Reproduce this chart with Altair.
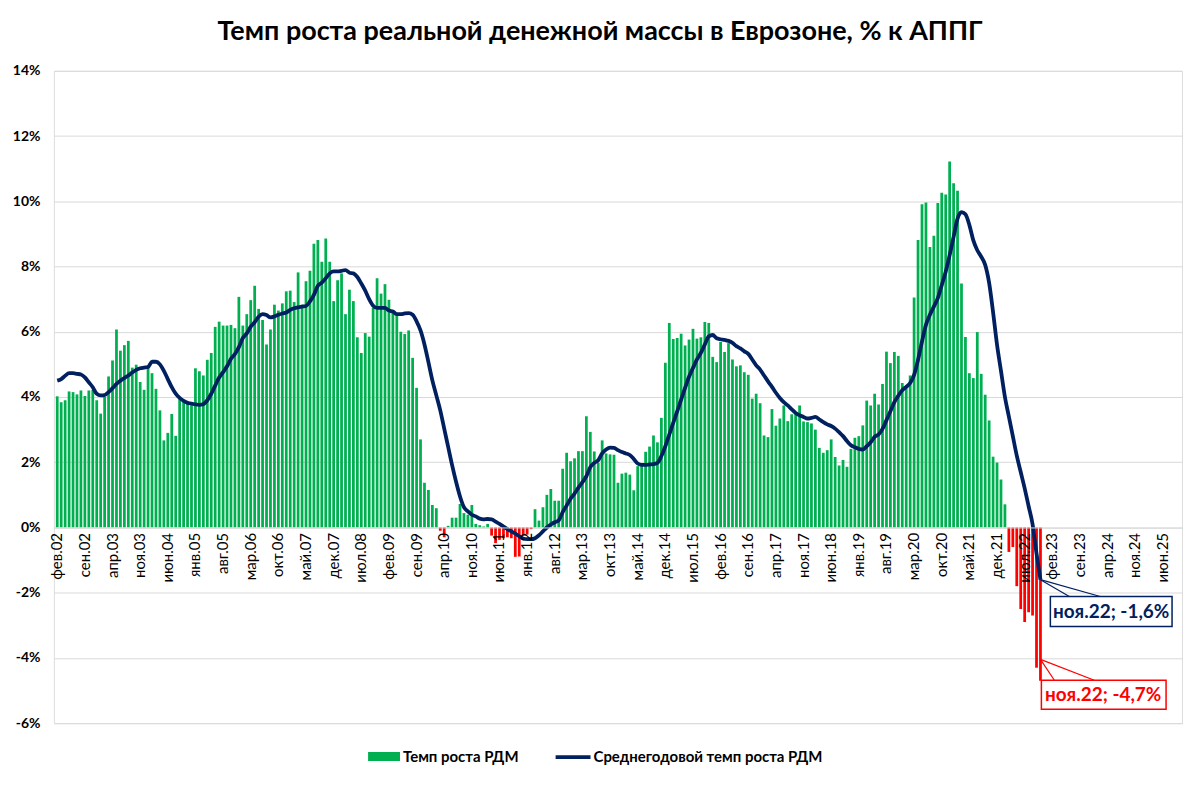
import altair as alt
import pandas as pd

MONTHS = ["янв", "фев", "мар", "апр", "май", "июн", "июл", "авг", "сен", "окт", "ноя", "дек"]

# category axis: фев.02 ... окт.25
categories = []
yr, mo = 2002, 1
for _ in range(285):
    categories.append(f"{MONTHS[mo]}.{yr % 100:02d}")
    mo += 1
    if mo == 12:
        mo = 0
        yr += 1
tick_labels = categories[::7]

# Темп роста РДМ, % к АППГ (фев.02 - ноя.22)
growth = [
    4.02, 3.84, 3.90, 4.17, 4.15, 4.08, 4.20, 4.03, 4.20, 4.22, 3.90, 3.49,
    4.00, 4.63, 5.12, 6.07, 5.42, 5.59, 5.72, 4.90, 4.99, 4.46, 4.22, 4.97,
    4.73, 4.25, 3.59, 2.67, 2.90, 3.48, 2.81, 3.95, 3.85, 3.85, 3.78, 4.88,
    4.79, 4.66, 5.14, 5.35, 6.15, 6.31, 6.19, 6.19, 6.21, 6.11, 7.07, 6.19,
    6.54, 6.97, 7.41, 6.70, 6.36, 5.61, 6.07, 6.83, 6.65, 6.87, 7.24, 7.26,
    6.91, 7.82, 6.83, 7.55, 7.87, 8.70, 8.81, 8.15, 8.86, 8.15, 6.94, 7.58,
    7.79, 6.54, 7.29, 6.94, 5.83, 5.35, 5.96, 5.85, 6.74, 7.64, 7.17, 7.46,
    6.98, 6.60, 6.49, 6.00, 5.93, 6.04, 5.20, 4.28, 2.70, 1.37, 1.15, 0.69,
    0.59, -0.10, -0.30, 0.05, 0.30, 0.30, 0.72, 0.44, 0.39, 0.69, 0.11, 0.07,
    0.03, 0.11, -0.25, -0.48, -0.38, -0.33, -0.30, -0.33, -0.90, -0.89, -0.25, -0.22,
    -0.05, 0.56, 0.21, 0.62, 1.00, 1.18, 0.82, 0.82, 1.80, 2.29, 2.03, 2.12,
    2.34, 2.34, 3.41, 2.93, 2.33, 1.98, 2.67, 2.27, 2.24, 2.23, 1.37, 1.65,
    1.68, 1.62, 1.14, 1.88, 1.92, 2.32, 2.48, 2.82, 2.61, 3.36, 5.05, 6.27,
    5.78, 5.81, 5.94, 5.58, 5.76, 6.09, 5.79, 5.83, 6.30, 6.27, 5.23, 5.07,
    5.69, 5.38, 5.65, 5.15, 4.94, 4.97, 4.76, 4.68, 3.95, 4.10, 3.81, 2.82,
    2.77, 3.63, 3.12, 3.34, 3.74, 3.26, 3.47, 3.51, 3.74, 3.25, 3.23, 3.19,
    3.00, 2.44, 2.29, 2.37, 2.70, 2.16, 1.90, 2.07, 1.86, 2.41, 2.75, 2.80,
    3.13, 3.89, 3.74, 4.10, 3.77, 4.40, 5.39, 5.04, 5.38, 5.26, 4.43, 4.27,
    4.66, 7.05, 8.81, 9.91, 9.96, 8.60, 8.94, 9.95, 10.26, 10.21, 11.22, 10.55,
    10.32, 7.48, 5.84, 4.73, 4.58, 5.99, 4.71, 4.07, 3.28, 2.17, 1.99, 1.47,
    0.71, -0.75, -0.60, -1.80, -2.50, -2.90, -2.60, -2.70, -4.30, -4.70,
]

# Среднегодовой темп роста РДМ
avg_growth = [
    4.50, 4.55, 4.65, 4.73, 4.73, 4.71, 4.69, 4.60, 4.45, 4.30, 4.10, 4.05,
    4.06, 4.15, 4.27, 4.40, 4.50, 4.58, 4.66, 4.75, 4.83, 4.88, 4.90, 4.92,
    5.08, 5.08, 5.00, 4.80, 4.55, 4.30, 4.10, 3.97, 3.88, 3.82, 3.80, 3.77,
    3.76, 3.78, 3.90, 4.10, 4.35, 4.60, 4.76, 4.94, 5.17, 5.32, 5.53, 5.81,
    5.95, 6.16, 6.29, 6.46, 6.54, 6.51, 6.44, 6.47, 6.52, 6.56, 6.59, 6.67,
    6.72, 6.75, 6.77, 6.79, 6.93, 7.13, 7.41, 7.51, 7.64, 7.79, 7.85, 7.85,
    7.87, 7.89, 7.81, 7.79, 7.68, 7.48, 7.26, 7.00, 6.80, 6.73, 6.73, 6.73,
    6.65, 6.62, 6.54, 6.54, 6.56, 6.57, 6.52, 6.32, 6.04, 5.61, 5.07, 4.51,
    4.05, 3.59, 3.03, 2.47, 1.91, 1.40, 0.95, 0.62, 0.49, 0.39, 0.34, 0.27,
    0.25, 0.26, 0.25, 0.18, 0.11, 0.03, -0.05, -0.12, -0.19, -0.27, -0.34, -0.36,
    -0.36, -0.33, -0.24, -0.12, 0.00, 0.09, 0.16, 0.22, 0.47, 0.67, 0.88, 1.04,
    1.22, 1.39, 1.57, 1.85, 1.98, 2.06, 2.27, 2.39, 2.45, 2.44, 2.37, 2.31,
    2.27, 2.22, 2.10, 1.96, 1.92, 1.92, 1.93, 1.94, 1.98, 2.19, 2.49, 2.85,
    3.21, 3.56, 3.92, 4.28, 4.62, 4.89, 5.15, 5.35, 5.61, 5.86, 5.90, 5.80,
    5.77, 5.75, 5.72, 5.66, 5.56, 5.49, 5.40, 5.32, 5.15, 4.97, 4.84, 4.66,
    4.48, 4.31, 4.13, 3.97, 3.84, 3.74, 3.62, 3.51, 3.44, 3.39, 3.34, 3.36,
    3.39, 3.31, 3.23, 3.16, 3.11, 3.03, 2.92, 2.80, 2.65, 2.52, 2.46, 2.41,
    2.39, 2.49, 2.61, 2.78, 2.85, 3.02, 3.29, 3.56, 3.84, 4.04, 4.21, 4.31,
    4.43, 4.68, 5.14, 5.70, 6.21, 6.52, 6.77, 7.03, 7.43, 7.84, 8.35, 8.91,
    9.47, 9.67, 9.60, 9.27, 8.80, 8.50, 8.30, 8.05, 7.50, 6.60, 5.60, 4.80,
    4.00, 3.40, 2.80, 2.20, 1.70, 1.20, 0.65, 0.10, -0.80, -1.60,
]

y_ticks = [-6, -4, -2, 0, 2, 4, 6, 8, 10, 12, 14]

GREEN = "#00B050"
RED = "#FF0000"
NAVY = "#002060"
FONT = "Lato"

W, H = 1131, 654

df = pd.DataFrame({
    "month": categories[:len(growth)],
    "growth": growth,
    "avg": avg_growth,
})

x_scale = alt.Scale(domain=categories, paddingInner=0.3, paddingOuter=0.5)
y_scale = alt.Scale(domain=[-6, 14], nice=False, zero=False)

x_axis = alt.Axis(
    values=tick_labels, labelAngle=-90, title=None, ticks=False,
    domainColor="#D9D9D9", labelFont=FONT, labelFontSize=15, labelColor="#000000",
    labelPadding=5, offset=-(H * 6 / 20), zindex=1, labelOverlap=False, grid=False,
)
y_axis = alt.Axis(
    values=y_ticks, labelExpr="datum.value + '%'", title=None, ticks=False,
    domain=False, grid=True, gridColor="#D9D9D9", gridWidth=1,
    labelFont=FONT, labelFontSize=14, labelFontWeight="bold", labelColor="#000000",
    labelPadding=14,
)

base = alt.Chart(df)

bars = base.mark_bar().encode(
    x=alt.X("month:N", sort=categories, scale=x_scale, axis=x_axis),
    y=alt.Y("growth:Q", scale=y_scale, axis=y_axis),
    color=alt.condition(alt.datum.growth >= 0, alt.value(GREEN), alt.value(RED)),
)

line = base.mark_line(color=NAVY, strokeWidth=3.8, interpolate="monotone").encode(
    x=alt.X("month:N", sort=categories),
    y=alt.Y("avg:Q"),
)

# callouts anchored to the last observation
last = df.iloc[[-1]][["month", "avg"]]


def pointer(color, y_tip, x_end, y_end):
    enc = dict(
        x=alt.X("month:N", sort=categories),
        x2=alt.value(x_end),
        y2=alt.value(y_end),
    )
    enc["y"] = y_tip
    return alt.Chart(last).mark_rule(color=color, strokeWidth=1.2).encode(**enc)


navy_tip = alt.Y("avg:Q")
navy_rules = [pointer(NAVY, navy_tip, 1018, 527), pointer(NAVY, navy_tip, 1049, 527)]
navy_box = alt.Chart(pd.DataFrame({"t": ["ноя.22; -1,6%"]})).mark_rect(
    fill="white", stroke=NAVY, strokeWidth=1.5
).encode(x=alt.value(999), x2=alt.value(1121), y=alt.value(527), y2=alt.value(557))
navy_text = alt.Chart(pd.DataFrame({"t": ["ноя.22; -1,6%"]})).mark_text(
    font=FONT, fontSize=19, fontWeight="bold", color=NAVY, align="center", baseline="middle"
).encode(text="t:N", x=alt.value(1060), y=alt.value(543))

red_tip = alt.value(590)
red_rules = [pointer(RED, red_tip, 1003, 611), pointer(RED, red_tip, 1043, 611)]
red_box = alt.Chart(pd.DataFrame({"t": ["ноя.22; -4,7%"]})).mark_rect(
    fill="white", stroke=RED, strokeWidth=1.5
).encode(x=alt.value(990), x2=alt.value(1115), y=alt.value(611), y2=alt.value(640))
red_text = alt.Chart(pd.DataFrame({"t": ["ноя.22; -4,7%"]})).mark_text(
    font=FONT, fontSize=19, fontWeight="bold", color=RED, align="center", baseline="middle"
).encode(text="t:N", x=alt.value(1052), y=alt.value(626))

# legend
leg_rect = alt.Chart(pd.DataFrame({"t": ["Темп роста РДМ"]})).mark_rect(color=GREEN).encode(
    x=alt.value(315), x2=alt.value(347), y=alt.value(683), y2=alt.value(692)
)
leg_text1 = alt.Chart(pd.DataFrame({"t": ["Темп роста РДМ"]})).mark_text(
    font=FONT, fontSize=15, fontWeight="bold", align="left", baseline="middle", color="#000000"
).encode(text="t:N", x=alt.value(350), y=alt.value(688))
leg_line = alt.Chart(pd.DataFrame({"t": ["Среднегодовой темп роста РДМ"]})).mark_rule(
    color=NAVY, strokeWidth=3.8
).encode(x=alt.value(503), x2=alt.value(538), y=alt.value(688))
leg_text2 = alt.Chart(pd.DataFrame({"t": ["Среднегодовой темп роста РДМ"]})).mark_text(
    font=FONT, fontSize=15, fontWeight="bold", align="left", baseline="middle", color="#000000"
).encode(text="t:N", x=alt.value(541), y=alt.value(688))

chart = alt.layer(
    bars, line, *navy_rules, navy_box, navy_text, *red_rules, red_box, red_text,
    leg_rect, leg_text1, leg_line, leg_text2,
).properties(
    width=W, height=H,
    title=alt.TitleParams(
        "Темп роста реальной денежной массы в Еврозоне, % к АППГ",
        font=FONT, fontSize=27, fontWeight="bold", color="#000000",
        anchor="middle", offset=18, dx=-18,
    ),
    autosize=alt.AutoSizeParams(type="none"),
    padding={"left": 46, "top": 62, "right": 10, "bottom": 55},
).configure_view(stroke=None).configure(background="white")

chart.save("out.html", embed_options={"renderer": "svg", "actions": False})
